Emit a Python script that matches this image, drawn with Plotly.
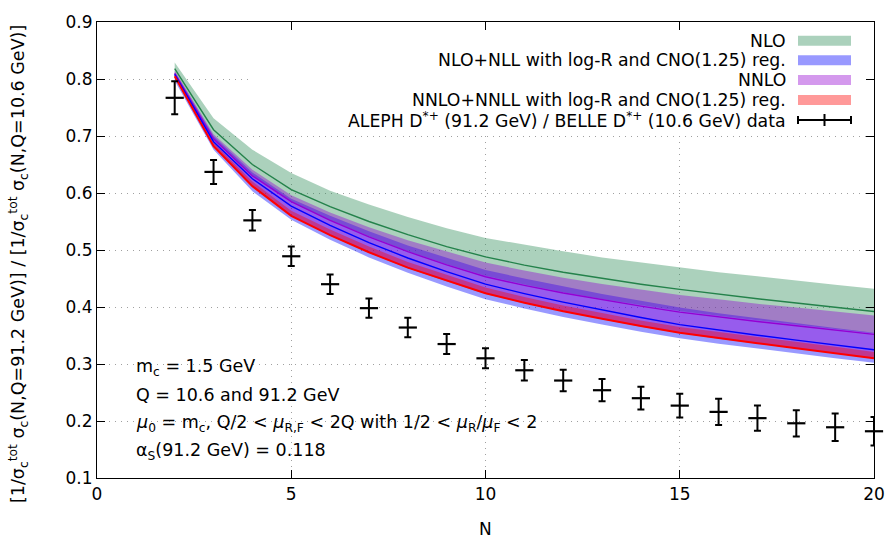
import plotly.graph_objects as go

# ---------------- data ----------------
N = [2, 3, 4, 5, 6, 7, 8, 9, 10, 11, 12, 13, 14, 15, 16, 17, 18, 19, 20]

nlo_center = [0.818, 0.711, 0.650, 0.606, 0.576, 0.550, 0.527, 0.506, 0.488, 0.4735, 0.461, 0.450, 0.440, 0.431, 0.4225, 0.4145, 0.407, 0.3995, 0.392]
nlo_upper = [0.829, 0.731, 0.676, 0.635, 0.604, 0.580, 0.558, 0.538, 0.521, 0.509, 0.498, 0.487, 0.478, 0.469, 0.461, 0.454, 0.446, 0.439, 0.432]
nlo_lower = [0.806, 0.694, 0.630, 0.584, 0.552, 0.524, 0.498, 0.475, 0.455, 0.4395, 0.426, 0.414, 0.403, 0.393, 0.3845, 0.3765, 0.369, 0.3615, 0.354]

nll_center = [0.808, 0.690, 0.625, 0.577, 0.543, 0.513, 0.486, 0.462, 0.440, 0.4235, 0.4085, 0.3945, 0.3815, 0.369, 0.3595, 0.3505, 0.3418, 0.3333, 0.325]
nll_upper = [0.812, 0.700, 0.636, 0.590, 0.560, 0.533, 0.508, 0.486, 0.465, 0.450, 0.436, 0.423, 0.411, 0.399, 0.389, 0.380, 0.371, 0.363, 0.355]
nll_lower = [0.797, 0.676, 0.603, 0.553, 0.518, 0.487, 0.460, 0.436, 0.4135, 0.3975, 0.3825, 0.3695, 0.3565, 0.345, 0.3355, 0.3265, 0.3188, 0.3103, 0.302]

nnlo_center = [0.810, 0.695, 0.630, 0.585, 0.552, 0.523, 0.497, 0.474, 0.453, 0.438, 0.4245, 0.4125, 0.4015, 0.391, 0.3825, 0.3745, 0.367, 0.3595, 0.352]
nnlo_upper = [0.815, 0.703, 0.641, 0.596, 0.566, 0.540, 0.517, 0.497, 0.478, 0.464, 0.4515, 0.4405, 0.4305, 0.421, 0.4135, 0.4055, 0.399, 0.3925, 0.385]
nnlo_lower = [0.805, 0.682, 0.612, 0.560, 0.526, 0.496, 0.469, 0.446, 0.424, 0.4075, 0.3925, 0.3795, 0.3665, 0.355, 0.3455, 0.3365, 0.3278, 0.3193, 0.310]

nnll_center = [0.805, 0.682, 0.612, 0.560, 0.526, 0.496, 0.469, 0.446, 0.424, 0.4075, 0.3925, 0.3795, 0.3665, 0.355, 0.3455, 0.3365, 0.3278, 0.3193, 0.310]
nnll_upper = [0.809, 0.688, 0.620, 0.569, 0.536, 0.506, 0.479, 0.456, 0.434, 0.4175, 0.4025, 0.3895, 0.3765, 0.365, 0.3565, 0.3475, 0.3388, 0.3303, 0.321]
nnll_lower = [0.804, 0.681, 0.611, 0.559, 0.525, 0.495, 0.468, 0.445, 0.423, 0.4065, 0.3915, 0.3785, 0.3655, 0.354, 0.3445, 0.3355, 0.3268, 0.3183, 0.309]

data_val = [0.767, 0.637, 0.552, 0.489, 0.440, 0.398, 0.364, 0.335, 0.310, 0.289, 0.271, 0.254, 0.240, 0.227, 0.216, 0.205, 0.196, 0.189, 0.182]
data_err = [0.029, 0.021, 0.018, 0.017, 0.017, 0.017, 0.017, 0.0175, 0.0175, 0.018, 0.019, 0.0195, 0.020, 0.021, 0.023, 0.022, 0.023, 0.024, 0.025]

x_ticks = [0, 5, 10, 15, 20]
y_ticks = [0.1, 0.2, 0.3, 0.4, 0.5, 0.6, 0.7, 0.8, 0.9]

legend_labels = [
    "NLO",
    "NLO+NLL with log-R and CNO(1.25) reg.",
    "NNLO",
    "NNLO+NNLL with log-R and CNO(1.25) reg.",
    "ALEPH D<sup>*+</sup> (91.2 GeV) / BELLE D<sup>*+</sup> (10.6 GeV) data",
]
info_lines = [
    "m<sub>c</sub> = 1.5 GeV",
    "Q = 10.6 and 91.2 GeV",
    "<i>μ</i><sub>0</sub> = m<sub>c</sub>, Q/2 &lt; <i>μ</i><sub>R,F</sub> &lt; 2Q with 1/2 &lt; <i>μ</i><sub>R</sub>/<i>μ</i><sub>F</sub> &lt; 2",
    "α<sub>S</sub>(91.2 GeV) = 0.118",
]
x_title = "N"
y_title = ("[1/σ<sub>c</sub><sup>tot</sup> σ<sub>c</sub>(N,Q=91.2 GeV)] / "
           "[1/σ<sub>c</sub><sup>tot</sup> σ<sub>c</sub>(N,Q=10.6 GeV)]")

# ---------------- styling ----------------
W, H = 888, 540
L, R, T, B = 97, 874, 22, 478
FONT = "DejaVu Sans, Verdana, sans-serif"
XR = (0, 20)
YR = (0.1, 0.9)

band_fill = {
    "nlo": "rgba(46,139,87,0.4)",
    "nll": "rgba(0,0,255,0.4)",
    "nnlo": "rgba(148,0,211,0.4)",
    "nnll": "rgba(255,0,0,0.4)",
}
line_col = {
    "nlo": "rgb(36,130,75)",
    "nll": "rgb(0,0,255)",
    "nnlo": "rgb(148,0,211)",
    "nnll": "rgb(255,0,0)",
}

def px(x):
    return (x - L) / (R - L)

def py(y):
    return (B - y) / (B - T)

def dx(x):
    return XR[0] + (x - L) / (R - L) * (XR[1] - XR[0])

def dy(y):
    return YR[1] - (y - T) / (B - T) * (YR[1] - YR[0])

fig = go.Figure()

bands = [
    ("nlo", nlo_upper, nlo_lower),
    ("nll", nll_upper, nll_lower),
    ("nnlo", nnlo_upper, nnlo_lower),
    ("nnll", nnll_upper, nnll_lower),
]
for key, up, lo in bands:
    fig.add_trace(go.Scatter(
        x=N + N[::-1], y=up + lo[::-1], fill="toself", fillcolor=band_fill[key],
        line=dict(width=0), mode="lines", hoverinfo="skip", showlegend=False))

centers = [("nlo", nlo_center, 1.4), ("nnlo", nnlo_center, 1.4),
           ("nll", nll_center, 1.4), ("nnll", nnll_center, 2.0)]
for key, c, w in centers:
    fig.add_trace(go.Scatter(x=N, y=c, mode="lines",
                             line=dict(color=line_col[key], width=w), showlegend=False))

fig.add_trace(go.Scatter(
    x=N, y=data_val, mode="markers",
    marker=dict(symbol="line-ew", size=13, line=dict(color="black", width=2.2)),
    error_y=dict(type="data", array=data_err, visible=True, color="black",
                 thickness=2, width=3.5),
    cliponaxis=False, showlegend=False))

shapes = []
annotations = []

# white box behind legend (hides grid, drawn between grid and traces)
shapes.append(dict(type="rect", xref="x", yref="y", layer="between",
                   x0=dx(250), x1=dx(873), y0=dy(133), y1=dy(22.5),
                   fillcolor="white", line=dict(width=0)))

leg_y = [40.7, 60.3, 80.0, 100.0, 120.0]
keys = ["nlo", "nll", "nnlo", "nnll"]
for i, lab in enumerate(legend_labels):
    annotations.append(dict(xref="paper", yref="paper", x=px(788), y=py(leg_y[i]),
                            xanchor="right", yanchor="middle", text=lab, showarrow=False,
                            font=dict(family=FONT, size=17.3, color="black")))
for i, k in enumerate(keys):
    shapes.append(dict(type="rect", xref="paper", yref="paper", layer="above",
                       x0=px(798), x1=px(851), y0=py(leg_y[i] + 5), y1=py(leg_y[i] - 5),
                       fillcolor=band_fill[k], line=dict(width=0)))
yd = leg_y[4]
for seg in [(798, yd, 851, yd), (798, yd - 4, 798, yd + 4), (851, yd - 4, 851, yd + 4),
            (824.5, yd - 6, 824.5, yd + 6)]:
    shapes.append(dict(type="line", xref="paper", yref="paper", layer="above",
                       x0=px(seg[0]), y0=py(seg[1]), x1=px(seg[2]), y1=py(seg[3]),
                       line=dict(color="black", width=2)))

info_y = [367, 395, 423, 451]
for i, t in enumerate(info_lines):
    annotations.append(dict(xref="paper", yref="paper", x=px(134), y=py(info_y[i]),
                            xanchor="left", yanchor="middle", text=t, showarrow=False,
                            font=dict(family=FONT, size=17.5, color="black")))

# axis titles as annotations for exact placement
annotations.append(dict(xref="paper", yref="paper", x=px(485), y=py(529),
                        xanchor="center", yanchor="middle", text=x_title, showarrow=False,
                        font=dict(family=FONT, size=17, color="black")))
annotations.append(dict(xref="paper", yref="paper", x=px(18), y=py(264),
                        xanchor="center", yanchor="middle", text=y_title, showarrow=False,
                        textangle=-90, font=dict(family=FONT, size=17.5, color="black")))

axis_common = dict(showline=True, linecolor="black", linewidth=1.2, mirror="ticks",
                   ticks="inside", ticklen=8, tickwidth=1, tickcolor="black",
                   showgrid=True, gridcolor="#a0a0a0", griddash="1px,5px", gridwidth=1,
                   zeroline=False, automargin=False,
                   tickfont=dict(family=FONT, size=17, color="black"))

fig.update_layout(
    width=W, height=H,
    margin=dict(l=L, r=W - R, t=T, b=H - B, autoexpand=False),
    paper_bgcolor="white", plot_bgcolor="white",
    font=dict(family=FONT, size=16, color="black"),
    xaxis=dict(range=list(XR), tickvals=x_ticks, **axis_common),
    yaxis=dict(range=list(YR), tickvals=y_ticks, tickformat=".1f", **axis_common),
    shapes=shapes, annotations=annotations,
)

fig.write_html("out.html", config={"displayModeBar": False},
               post_script="document.body.style.margin='0px';document.body.style.padding='0px';")
